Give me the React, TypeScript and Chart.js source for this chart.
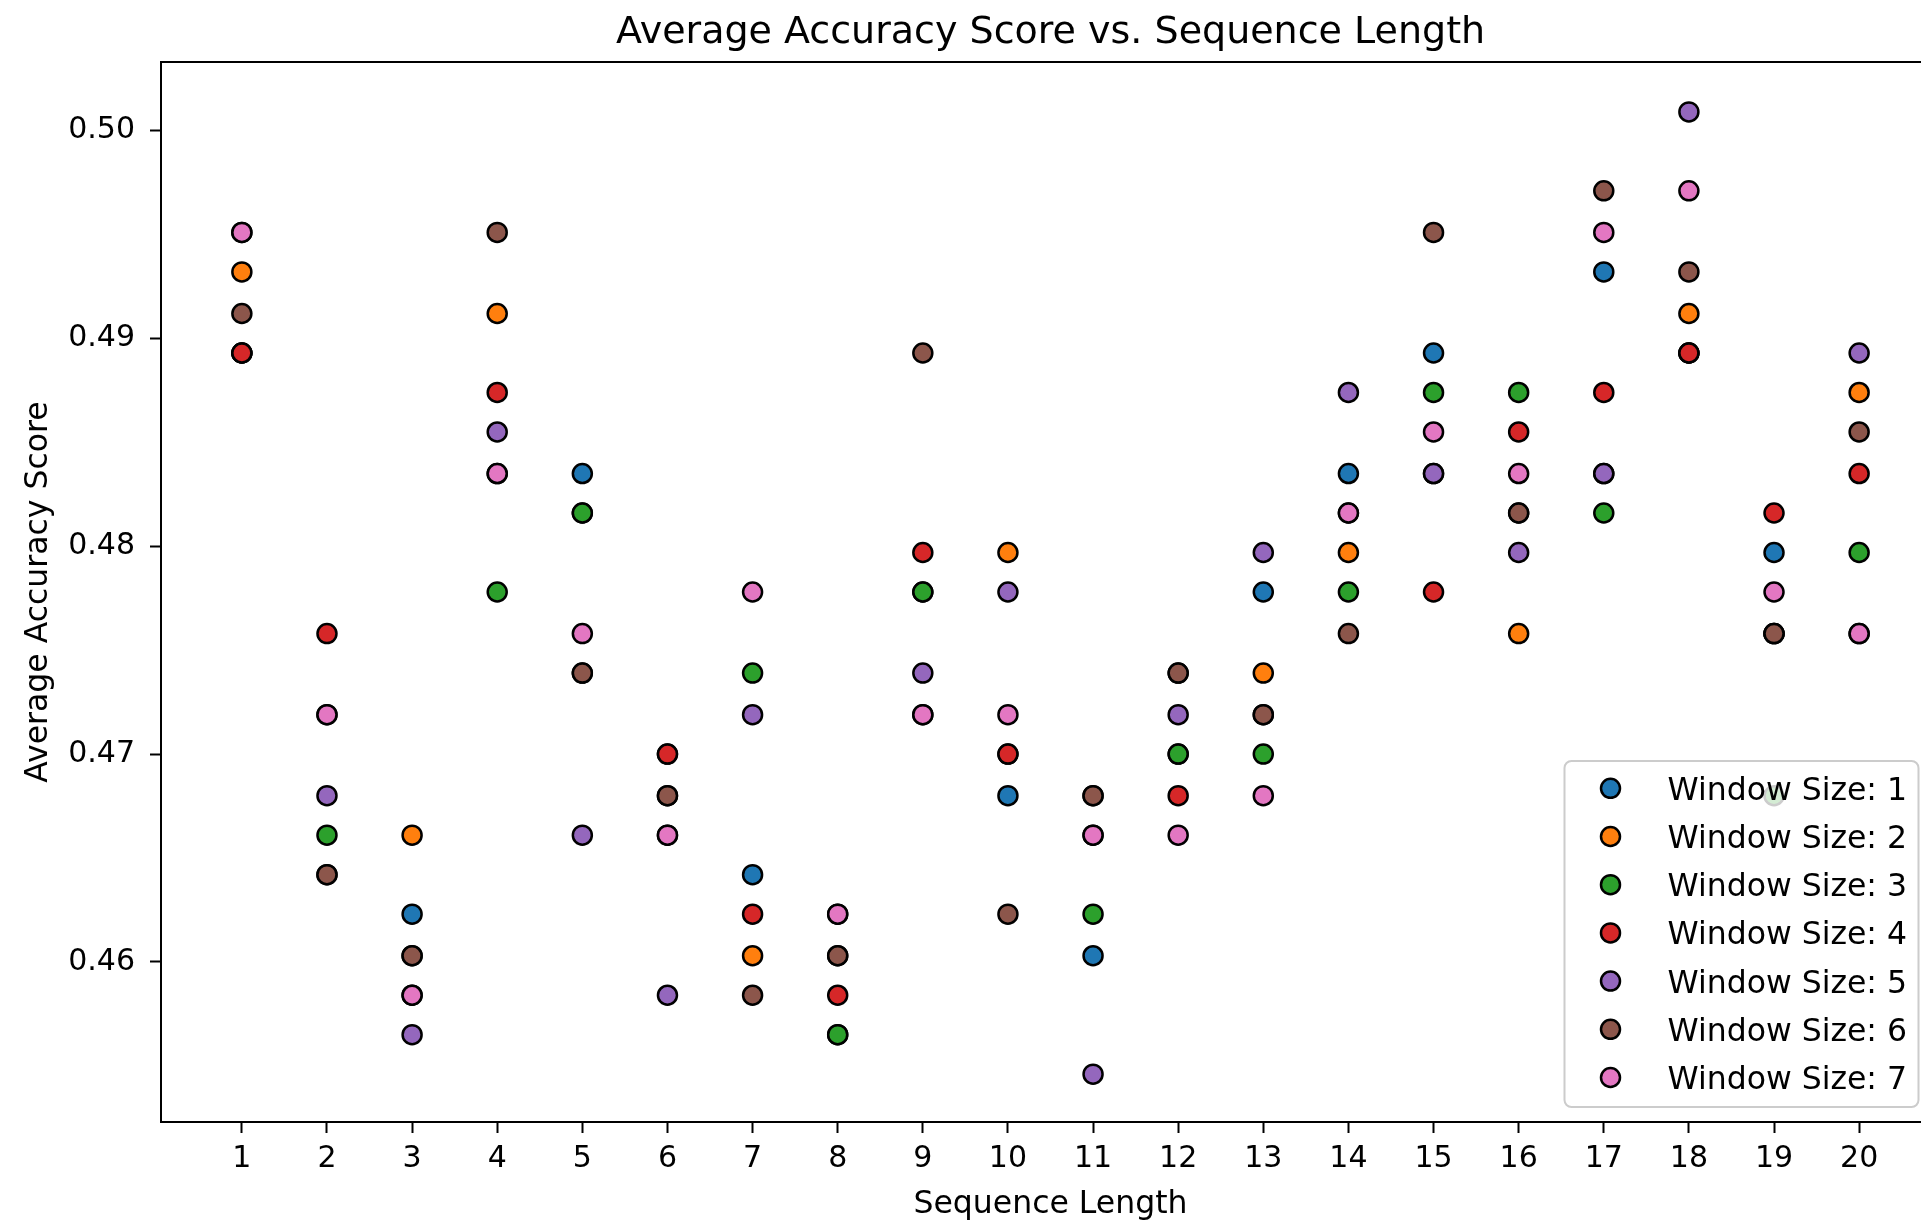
import React, { useEffect, useRef } from 'react';
import { Chart, registerables } from 'chart.js';

Chart.register(...registerables);

// ---------- data ----------
const sequenceLengths = [1, 2, 3, 4, 5, 6, 7, 8, 9, 10, 11, 12, 13, 14, 15, 16, 17, 18, 19, 20];

const windowSize1 = [0.4893, 0.4642, 0.4623, 0.4835, 0.4835, 0.4680, 0.4642, 0.4565, 0.4778, 0.4680,
  0.4603, 0.4700, 0.4778, 0.4835, 0.4893, 0.4816, 0.4932, 0.4893, 0.4797, 0.4758];
const windowSize2 = [0.4932, 0.4719, 0.4661, 0.4912, 0.4816, 0.4661, 0.4603, 0.4603, 0.4719, 0.4797,
  0.4661, 0.4739, 0.4739, 0.4797, 0.4835, 0.4758, 0.4835, 0.4912, 0.4758, 0.4874];
const windowSize3 = [0.4893, 0.4661, 0.4584, 0.4778, 0.4816, 0.4700, 0.4739, 0.4565, 0.4778, 0.4700,
  0.4623, 0.4700, 0.4700, 0.4778, 0.4874, 0.4874, 0.4816, 0.4893, 0.4680, 0.4797];
const windowSize4 = [0.4893, 0.4758, 0.4603, 0.4874, 0.4739, 0.4700, 0.4623, 0.4584, 0.4797, 0.4700,
  0.4680, 0.4680, 0.4719, 0.4816, 0.4778, 0.4855, 0.4874, 0.4893, 0.4816, 0.4835];
const windowSize5 = [0.4951, 0.4680, 0.4565, 0.4855, 0.4661, 0.4584, 0.4719, 0.4623, 0.4739, 0.4778,
  0.4546, 0.4719, 0.4797, 0.4874, 0.4835, 0.4797, 0.4835, 0.5009, 0.4758, 0.4893];
const windowSize6 = [0.4912, 0.4642, 0.4603, 0.4951, 0.4739, 0.4680, 0.4584, 0.4603, 0.4893, 0.4623,
  0.4680, 0.4739, 0.4719, 0.4758, 0.4951, 0.4816, 0.4971, 0.4932, 0.4758, 0.4855];
const windowSize7 = [0.4951, 0.4719, 0.4584, 0.4835, 0.4758, 0.4661, 0.4778, 0.4623, 0.4719, 0.4719,
  0.4661, 0.4661, 0.4680, 0.4816, 0.4855, 0.4835, 0.4951, 0.4971, 0.4778, 0.4758];

const seriesValues = [windowSize1, windowSize2, windowSize3, windowSize4, windowSize5, windowSize6, windowSize7];
const seriesLabels = ['Window Size: 1', 'Window Size: 2', 'Window Size: 3', 'Window Size: 4',
  'Window Size: 5', 'Window Size: 6', 'Window Size: 7'];
const seriesColors = ['#1f77b4', '#ff7f0e', '#2ca02c', '#d62728', '#9467bd', '#8c564b', '#e377c2'];

const yTickValues = [0.46, 0.47, 0.48, 0.49, 0.5];
const xRange = [0.05, 20.95];
const yRange = [0.4523, 0.5033];

const chartTitle = 'Average Accuracy Score vs. Sequence Length';
const xAxisTitle = 'Sequence Length';
const yAxisTitle = 'Average Accuracy Score';

// ---------- styling ----------
const FONT = '"DejaVu Sans", "Liberation Sans", sans-serif';
const TITLE_SIZE = 38;
const LABEL_SIZE = 31.5;
const TICK_SIZE = 30;
const LEGEND_SIZE = 31.5;
const MARKER_R = 9.5;
const MARKER_BW = 2.5;

const decorPlugin = {
  id: 'decor',
  afterDraw(chart: any) {
    const { ctx, chartArea: a, scales } = chart;
    const xs = scales.x;
    ctx.save();

    // top & right spines
    ctx.strokeStyle = '#000';
    ctx.lineWidth = 2;
    ctx.beginPath();
    ctx.moveTo(a.left - 1, a.top);
    ctx.lineTo(a.right, a.top);
    ctx.lineTo(a.right, a.bottom + 1);
    ctx.stroke();

    const cx = xs.getPixelForValue((xRange[0] + xRange[1]) / 2);
    ctx.fillStyle = '#000';
    ctx.textAlign = 'center';
    ctx.textBaseline = 'alphabetic';

    // title
    ctx.font = `${TITLE_SIZE}px ${FONT}`;
    ctx.fillText(chartTitle, cx, a.top - 18.7);

    // x axis title
    ctx.font = `${LABEL_SIZE}px ${FONT}`;
    ctx.fillText(xAxisTitle, cx, a.bottom + 91.3);

    // y axis title
    ctx.save();
    ctx.translate(46.5, (a.top + a.bottom) / 2);
    ctx.rotate(-Math.PI / 2);
    ctx.fillText(yAxisTitle, 0, 0);
    ctx.restore();

    // legend (lower right, inside axes)
    const boxW = 354;
    const boxH = 346;
    const bx = a.right - 21.5 - boxW;
    const by = a.bottom - 15 - boxH;
    ctx.beginPath();
    (ctx as any).roundRect(bx, by, boxW, boxH, 7);
    ctx.fillStyle = 'rgba(255,255,255,0.8)';
    ctx.fill();
    ctx.strokeStyle = '#cccccc';
    ctx.lineWidth = 2;
    ctx.stroke();

    ctx.font = `${LEGEND_SIZE}px ${FONT}`;
    ctx.textAlign = 'left';
    ctx.textBaseline = 'alphabetic';
    chart.data.datasets.forEach((ds: any, i: number) => {
      const cy = by + 27.3 + i * 48.2;
      ctx.beginPath();
      ctx.arc(bx + 46, cy, MARKER_R, 0, Math.PI * 2);
      ctx.fillStyle = ds.pointBackgroundColor;
      ctx.fill();
      ctx.lineWidth = MARKER_BW;
      ctx.strokeStyle = '#000';
      ctx.stroke();
      ctx.fillStyle = '#000';
      ctx.fillText(ds.label, bx + 103, cy + 0.365 * LEGEND_SIZE);
    });

    ctx.restore();
  },
};

export default function App() {
  const canvasRef = useRef<HTMLCanvasElement | null>(null);

  useEffect(() => {
    const canvas = canvasRef.current;
    if (!canvas) return;

    const datasets = seriesValues.map((vals, i) => ({
      label: seriesLabels[i],
      data: sequenceLengths.map((x, j) => ({ x, y: vals[j] })),
      pointBackgroundColor: seriesColors[i],
      backgroundColor: seriesColors[i],
      pointBorderColor: '#000',
      borderColor: '#000',
      pointBorderWidth: MARKER_BW,
      pointRadius: MARKER_R,
      pointHoverRadius: MARKER_R,
      pointStyle: 'circle',
      showLine: false,
      order: seriesValues.length - 1 - i,
    }));

    const chart = new Chart(canvas, {
      type: 'scatter',
      data: { datasets } as any,
      options: {
        animation: false,
        responsive: true,
        maintainAspectRatio: false,
        devicePixelRatio: 1,
        events: [],
        layout: { padding: { top: 62, right: 5, left: 0, bottom: 0 } },
        plugins: {
          legend: { display: false },
          title: { display: false },
          tooltip: { enabled: false },
        },
        scales: {
          x: {
            type: 'linear',
            min: xRange[0],
            max: xRange[1],
            afterFit: (s: any) => { s.height = 100; },
            afterBuildTicks: (s: any) => { s.ticks = sequenceLengths.map((v) => ({ value: v })); },
            ticks: {
              autoSkip: false,
              maxRotation: 0,
              color: '#000',
              padding: 8,
              font: { size: TICK_SIZE, family: FONT },
              callback: (v: any) => String(v),
            },
            grid: {
              display: true,
              drawOnChartArea: false,
              drawTicks: true,
              tickLength: 11,
              tickWidth: 2,
              tickColor: '#000',
            },
            border: { display: true, color: '#000', width: 2 },
          },
          y: {
            type: 'linear',
            min: yRange[0],
            max: yRange[1],
            afterFit: (s: any) => { s.width = 161; },
            afterBuildTicks: (s: any) => { s.ticks = yTickValues.map((v) => ({ value: v })); },
            ticks: {
              autoSkip: false,
              color: '#000',
              padding: 15,
              font: { size: TICK_SIZE, family: FONT },
              callback: (v: any) => Number(v).toFixed(2),
            },
            grid: {
              display: true,
              drawOnChartArea: false,
              drawTicks: true,
              tickLength: 11,
              tickWidth: 2,
              tickColor: '#000',
            },
            border: { display: true, color: '#000', width: 2 },
          },
        },
      } as any,
      plugins: [decorPlugin],
    });

    return () => chart.destroy();
  }, []);

  return (
    <div
      style={{
        position: 'fixed',
        left: 0,
        top: 0,
        width: 1921,
        height: 1222,
        overflow: 'hidden',
        background: '#fff',
      }}
    >
      <div style={{ position: 'relative', width: 1952, height: 1222 }}>
        <canvas ref={canvasRef} />
      </div>
    </div>
  );
}
